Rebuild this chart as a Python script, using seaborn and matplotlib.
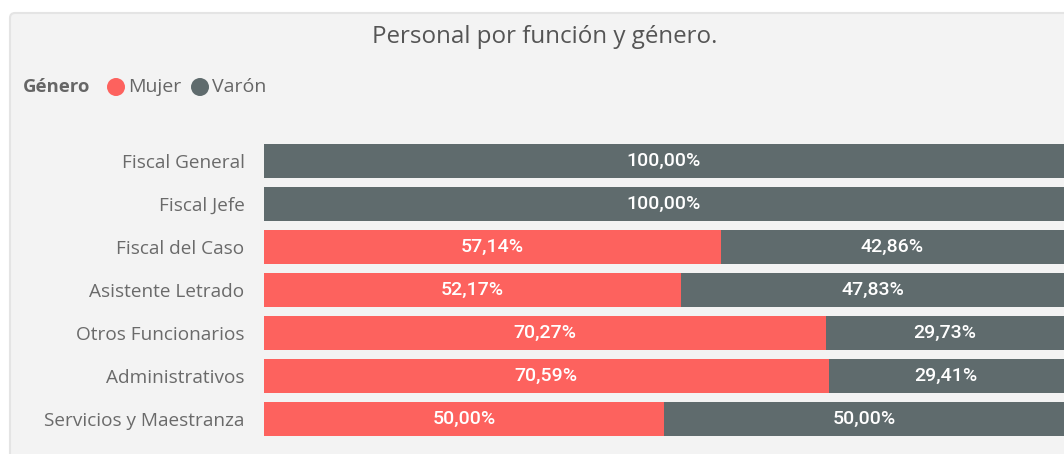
import pandas as pd
import seaborn as sns
import matplotlib.pyplot as plt
from matplotlib.patches import FancyBboxPatch, Ellipse

categorias = ["Fiscal General", "Fiscal Jefe", "Fiscal del Caso", "Asistente Letrado",
              "Otros Funcionarios", "Administrativos", "Servicios y Maestranza"]
mujer = [0.0, 0.0, 57.14, 52.17, 70.27, 70.59, 50.00]
varon = [100.0, 100.0, 42.86, 47.83, 29.73, 29.41, 50.00]

df = pd.DataFrame({"funcion": categorias, "Mujer": mujer, "Varón": varon})
df["total"] = df["Mujer"] + df["Varón"]

ROJO = "#FD625E"
GRIS = "#5F6B6D"
FONDO = "#F3F3F3"

sns.set_theme(style="white")
plt.rcParams["font.family"] = ["Open Sans", "DejaVu Sans"]

W, H = 1064, 454
fig = plt.figure(figsize=(W / 100, H / 100), dpi=100)
fig.patch.set_facecolor("white")

# panel de fondo con borde (en un eje de fondo)
bg = fig.add_axes([0, 0, 1, 1], zorder=-1)
bg.set_xlim(0, W)
bg.set_ylim(H, 0)
bg.axis("off")
bg.add_patch(FancyBboxPatch((10, 13), W + 50, H + 50,
                            boxstyle="round,pad=0,rounding_size=5",
                            facecolor=FONDO, edgecolor="#E4E4E4", linewidth=1.5))

ax = fig.add_axes([264 / W, 1 - 440.5 / H, (W - 264) / W, (440.5 - 139.5) / H])
ax.patch.set_alpha(0)

sns.barplot(data=df, x="total", y="funcion", color=GRIS, width=0.79,
            saturation=1, ax=ax, orient="h", linewidth=0)
sns.barplot(data=df, x="Mujer", y="funcion", color=ROJO, width=0.79,
            saturation=1, ax=ax, orient="h", linewidth=0)

def fmt(v):
    return f"{v:.2f}".replace(".", ",") + "%"

for i, (m, v) in enumerate(zip(df["Mujer"], df["Varón"])):
    if m > 0:
        ax.text(m / 2, i, fmt(m), ha="center", va="center", color="white",
                fontsize=14, family="Roboto", fontweight="medium")
    if v > 0:
        ax.text(m + v / 2, i, fmt(v), ha="center", va="center", color="white",
                fontsize=14, family="Roboto", fontweight="medium")

ax.set_xlim(0, 100)
ax.set_xlabel("")
ax.set_ylabel("")
ax.set_xticks([])
ax.tick_params(axis="y", length=0, pad=14, labelsize=13.7, labelcolor="#6A6A6A")
sns.despine(ax=ax, left=True, bottom=True)

# título
bg.text(545, 37, "Personal por función y género.", ha="center",
        va="center", fontsize=17.4, color="#555555")

# leyenda
ly = 87
bg.text(23, ly, "Género", ha="left", va="center", fontsize=13.3,
        fontweight="bold", color="#666666")
for cx, col, lab in [(116, ROJO, "Mujer"), (200, GRIS, "Varón")]:
    bg.add_patch(Ellipse((cx, ly), 18, 18, facecolor=col, edgecolor="none"))
    bg.text(cx + 12, ly, lab, ha="left", va="center", fontsize=14,
            color="#666666")

fig.savefig("out.png", dpi=100, facecolor=fig.get_facecolor())
